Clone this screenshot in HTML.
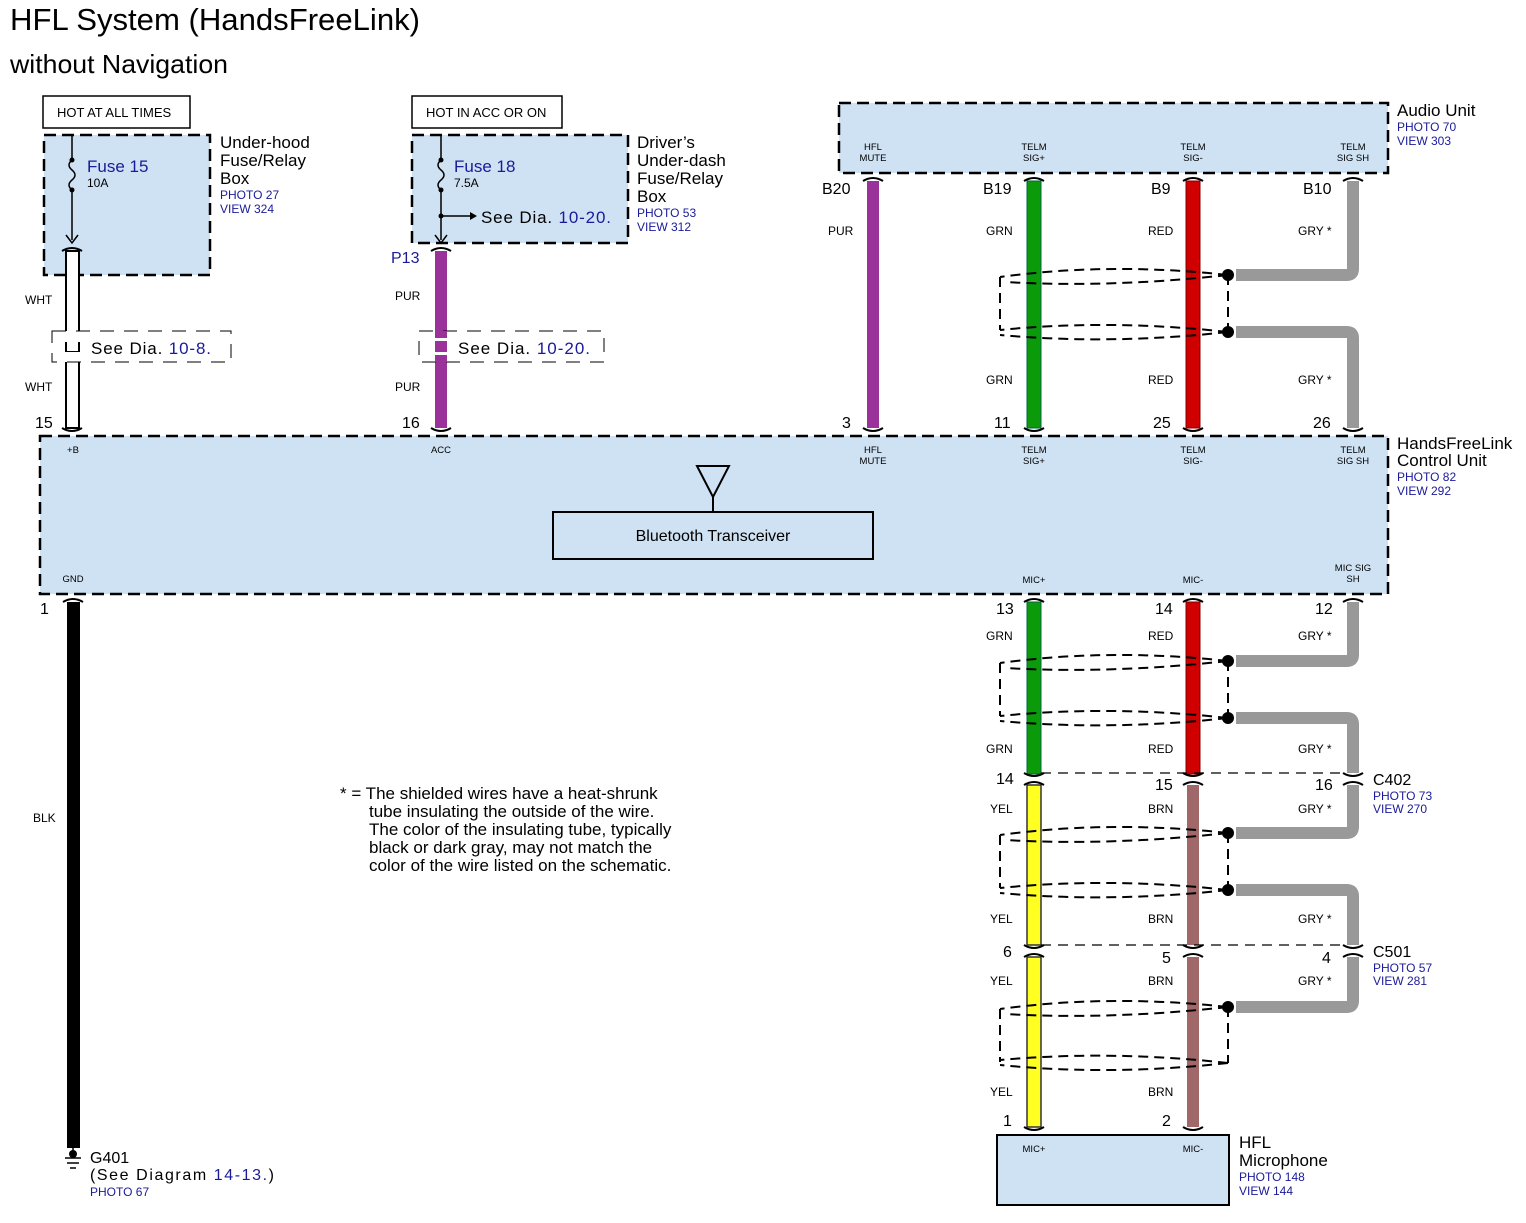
<!DOCTYPE html>
<html><head><meta charset="utf-8"><style>
html,body{margin:0;padding:0;background:#fff}
svg{display:block}
text{font-family:"Liberation Sans",sans-serif}
.s{font-size:12px}
.t{font-size:9.5px}
.b{fill:#1a1a9a}
.n{font-size:16px}
</style></head><body>
<svg width="1526" height="1223" viewBox="0 0 1526 1223" xmlns="http://www.w3.org/2000/svg">
<text x="10" y="30" font-size="31" textLength="410" lengthAdjust="spacingAndGlyphs">HFL System (HandsFreeLink)</text>
<text x="10" y="73" font-size="26" textLength="218" lengthAdjust="spacingAndGlyphs">without Navigation</text>

<!-- top-left boxes -->
<rect x="43" y="96" width="147" height="32" fill="#fff" stroke="#000" stroke-width="1.5"/>
<text x="57" y="117" font-size="13">HOT AT ALL TIMES</text>
<rect x="44" y="135" width="166" height="140" fill="#cfe2f3" stroke="#000" stroke-width="2.5" stroke-dasharray="12,6"/>
<text x="220" y="148" font-size="17">Under-hood</text>
<text x="220" y="166" font-size="17">Fuse/Relay</text>
<text x="220" y="184" font-size="17">Box</text>
<text x="220" y="199" class="s b">PHOTO 27</text>
<text x="220" y="213" class="s b">VIEW 324</text>
<path d="M72,135 V160 M72,190 V240" stroke="#000" stroke-width="1.5" fill="none"/>
<path d="M72,160 q-6,5 0,10 q6,5 0,10 q-6,5 0,10" stroke="#000" stroke-width="1.5" fill="none"/>
<circle cx="72" cy="160" r="2.5"/><circle cx="72" cy="190" r="2.5"/>
<path d="M66,235 L72,243 L78,235" stroke="#000" stroke-width="1.5" fill="none"/>
<text x="87" y="172" font-size="17" class="b">Fuse 15</text>
<text x="87" y="187" class="s">10A</text>

<rect x="412" y="96" width="150" height="32" fill="#fff" stroke="#000" stroke-width="1.5"/>
<text x="426" y="117" font-size="13">HOT IN ACC OR ON</text>
<rect x="412" y="135" width="216" height="108" fill="#cfe2f3" stroke="#000" stroke-width="2.5" stroke-dasharray="12,6"/>
<text x="637" y="148" font-size="17">Driver’s</text>
<text x="637" y="166" font-size="17">Under-dash</text>
<text x="637" y="184" font-size="17">Fuse/Relay</text>
<text x="637" y="202" font-size="17">Box</text>
<text x="637" y="217" class="s b">PHOTO 53</text>
<text x="637" y="231" class="s b">VIEW 312</text>
<path d="M441,135 V160 M441,190 V240 M441,216 H470" stroke="#000" stroke-width="1.5" fill="none"/>
<path d="M441,160 q-6,5 0,10 q6,5 0,10 q-6,5 0,10" stroke="#000" stroke-width="1.5" fill="none"/>
<circle cx="441" cy="160" r="2.5"/><circle cx="441" cy="190" r="2.5"/><circle cx="441" cy="216" r="2.5"/>
<path d="M470,212 L477,216 L470,220Z"/>
<path d="M435,235 L441,243 L447,235" stroke="#000" stroke-width="1.5" fill="none"/>
<text x="454" y="172" font-size="17" class="b">Fuse 18</text>
<text x="454" y="187" class="s">7.5A</text>
<text x="481" y="223" font-size="17" textLength="130" lengthAdjust="spacing">See  Dia. <tspan class="b">10-20.</tspan></text>

<!-- audio unit -->
<rect x="839" y="103" width="549" height="70" fill="#cfe2f3" stroke="#000" stroke-width="2.5" stroke-dasharray="12,6"/>
<text x="1397" y="116" font-size="17">Audio Unit</text>
<text x="1397" y="131" class="s b">PHOTO 70</text>
<text x="1397" y="145" class="s b">VIEW 303</text>
<g class="t" text-anchor="middle" font-size="9.5">
<text x="873" y="150">HFL</text><text x="873" y="161">MUTE</text>
<text x="1034" y="150">TELM</text><text x="1034" y="161">SIG+</text>
<text x="1193" y="150">TELM</text><text x="1193" y="161">SIG-</text>
<text x="1353" y="150">TELM</text><text x="1353" y="161">SIG SH</text>
</g>

<!-- control unit -->
<rect x="40" y="436" width="1348" height="158" fill="#cfe2f3" stroke="#000" stroke-width="2.5" stroke-dasharray="12,6"/>
<text x="1397" y="449" font-size="17">HandsFreeLink</text>
<text x="1397" y="466" font-size="17">Control Unit</text>
<text x="1397" y="481" class="s b">PHOTO 82</text>
<text x="1397" y="495" class="s b">VIEW 292</text>
<g text-anchor="middle" font-size="9.5">
<text x="73" y="453">+B</text>
<text x="441" y="453">ACC</text>
<text x="873" y="453">HFL</text><text x="873" y="464">MUTE</text>
<text x="1034" y="453">TELM</text><text x="1034" y="464">SIG+</text>
<text x="1193" y="453">TELM</text><text x="1193" y="464">SIG-</text>
<text x="1353" y="453">TELM</text><text x="1353" y="464">SIG SH</text>
<text x="73" y="582">GND</text>
<text x="1034" y="583">MIC+</text>
<text x="1193" y="583">MIC-</text>
<text x="1353" y="571">MIC SIG</text><text x="1353" y="582">SH</text>
</g>
<rect x="553" y="512" width="320" height="47" fill="#cfe2f3" stroke="#000" stroke-width="2"/>
<text x="713" y="541" text-anchor="middle" font-size="16">Bluetooth Transceiver</text>
<path d="M713,512 V497 M697,466 L713,497 L729,466 Z" stroke="#000" stroke-width="2" fill="none"/>

<!-- wires top-left -->
<rect x="66" y="251" width="13" height="177" fill="#fff" stroke="#000" stroke-width="2"/>
<rect x="435" y="251" width="12" height="177" fill="#993399"/>
<rect x="52" y="331" width="179" height="31" fill="#fff" stroke="#000" stroke-width="1" stroke-dasharray="14,10"/>
<rect x="62" y="339" width="25" height="16" fill="#fff"/>
<rect x="66" y="341" width="13" height="11" fill="#fff" stroke="#000" stroke-width="2"/>
<rect x="64" y="339" width="17" height="3" fill="#fff"/><rect x="64" y="352" width="17" height="3" fill="#fff"/>
<text x="91" y="354" font-size="17" textLength="120" lengthAdjust="spacing">See  Dia.  <tspan class="b">10-8.</tspan></text>
<rect x="419" y="331" width="185" height="31" fill="#fff" stroke="#000" stroke-width="1" stroke-dasharray="14,10"/>
<rect x="435" y="331" width="12" height="31" fill="#993399"/>
<rect x="433" y="338" width="16" height="3" fill="#fff"/><rect x="433" y="352" width="16" height="3" fill="#fff"/>
<text x="458" y="354" font-size="17" textLength="132" lengthAdjust="spacing">See Dia.  <tspan class="b">10-20.</tspan></text>
<text x="25" y="304" class="s">WHT</text><text x="25" y="391" class="s">WHT</text>
<text x="395" y="300" class="s">PUR</text><text x="395" y="391" class="s">PUR</text>
<text x="391" y="263" font-size="16" class="b">P13</text>
<text x="35" y="428" class="n">15</text><text x="402" y="428" class="n">16</text>

<!-- upper right wires -->
<rect x="867" y="181" width="12" height="247" fill="#993399"/>
<rect x="1027" y="181" width="14" height="247" fill="#0a9a0a" stroke="#064" stroke-width="1"/>
<rect x="1186" y="181" width="14" height="247" fill="#d00000" stroke="#800" stroke-width="1"/>
<path d="M1236,275 H1347 Q1353,275 1353,269 V181" stroke="#999" stroke-width="12" fill="none"/>
<path d="M1236,332 H1347 Q1353,332 1353,338 V428" stroke="#999" stroke-width="12" fill="none"/>
<g font-size="16"><text x="822" y="194">B20</text><text x="983" y="194">B19</text><text x="1151" y="194">B9</text><text x="1303" y="194">B10</text>
<text x="842" y="428">3</text><text x="994" y="428">11</text><text x="1153" y="428">25</text><text x="1313" y="428">26</text></g>
<g class="s"><text x="828" y="235">PUR</text><text x="986" y="235">GRN</text><text x="1148" y="235">RED</text><text x="1298" y="235">GRY *</text>
<text x="986" y="384">GRN</text><text x="1148" y="384">RED</text><text x="1298" y="384">GRY *</text></g>

<!-- lower wires -->
<rect x="67" y="602" width="13" height="546" fill="#000"/>
<rect x="1027" y="602" width="14" height="172" fill="#0a9a0a" stroke="#064" stroke-width="1"/>
<rect x="1186" y="602" width="14" height="172" fill="#d00000" stroke="#800" stroke-width="1"/>
<rect x="1027" y="785" width="14" height="160" fill="#ffff22" stroke="#333" stroke-width="1.5"/>
<rect x="1027" y="957" width="14" height="170" fill="#ffff22" stroke="#333" stroke-width="1.5"/>
<rect x="1187" y="785" width="12" height="160" fill="#a06868"/>
<rect x="1187" y="957" width="12" height="170" fill="#a06868"/>
<path d="M1353,602 V655 Q1353,661 1347,661 H1236" stroke="#999" stroke-width="12" fill="none"/>
<path d="M1236,718 H1347 Q1353,718 1353,724 V773" stroke="#999" stroke-width="12" fill="none"/>
<path d="M1353,785 V827 Q1353,833 1347,833 H1236" stroke="#999" stroke-width="12" fill="none"/>
<path d="M1236,890 H1347 Q1353,890 1353,896 V945" stroke="#999" stroke-width="12" fill="none"/>
<path d="M1353,957 V1001 Q1353,1007 1347,1007 H1236" stroke="#999" stroke-width="12" fill="none"/>
<path d="M1041,773 H1347 M1041,945 H1347" stroke="#000" stroke-width="1.2" stroke-dasharray="10,7" fill="none"/>
<g font-size="16">
<text x="40" y="614">1</text>
<text x="996" y="614">13</text><text x="1155" y="614">14</text><text x="1315" y="614">12</text>
<text x="996" y="784">14</text><text x="1155" y="790">15</text><text x="1315" y="790">16</text>
<text x="1003" y="957">6</text><text x="1162" y="963">5</text><text x="1322" y="963">4</text>
<text x="1003" y="1126">1</text><text x="1162" y="1126">2</text>
<text x="1373" y="785">C402</text><text x="1373" y="957">C501</text>
</g>
<text x="1373" y="800" class="s b">PHOTO 73</text><text x="1373" y="813" class="s b">VIEW 270</text>
<text x="1373" y="972" class="s b">PHOTO 57</text><text x="1373" y="985" class="s b">VIEW 281</text>
<g class="s">
<text x="33" y="822">BLK</text>
<text x="986" y="640">GRN</text><text x="1148" y="640">RED</text><text x="1298" y="640">GRY *</text>
<text x="986" y="753">GRN</text><text x="1148" y="753">RED</text><text x="1298" y="753">GRY *</text>
<text x="990" y="813">YEL</text><text x="1148" y="813">BRN</text><text x="1298" y="813">GRY *</text>
<text x="990" y="923">YEL</text><text x="1148" y="923">BRN</text><text x="1298" y="923">GRY *</text>
<text x="990" y="985">YEL</text><text x="1148" y="985">BRN</text><text x="1298" y="985">GRY *</text>
<text x="990" y="1096">YEL</text><text x="1148" y="1096">BRN</text>
</g>

<!-- connector caps -->
<g stroke="#000" stroke-width="2" fill="none">
<path d="M62,251 q10,-6 20,0 M62,428 q10,6 20,0 M431,251 q10,-6 20,0 M431,428 q10,6 20,0
M863,181 q10,-6 20,0 M863,428 q10,6 20,0 M1024,181 q10,-6 20,0 M1024,428 q10,6 20,0
M1183,181 q10,-6 20,0 M1183,428 q10,6 20,0 M1343,181 q10,-6 20,0 M1343,428 q10,6 20,0
M63,602 q10,-6 20,0 M1024,602 q10,-6 20,0 M1183,602 q10,-6 20,0 M1343,602 q10,-6 20,0
M1024,773 q10,6 20,0 M1024,785 q10,-6 20,0 M1183,773 q10,6 20,0 M1183,785 q10,-6 20,0 M1343,773 q10,6 20,0 M1343,785 q10,-6 20,0
M1024,945 q10,6 20,0 M1024,957 q10,-6 20,0 M1183,945 q10,6 20,0 M1183,957 q10,-6 20,0 M1343,945 q10,6 20,0 M1343,957 q10,-6 20,0
M1024,1127 q10,6 20,0 M1183,1127 q10,6 20,0"/>
</g>

<!-- shields -->
<g stroke="#000" stroke-width="2" fill="none" stroke-dasharray="10,6">
<path d="M1228,275 Q1110,262 1000,277 M1228,275 Q1110,288 1005,282 M1000,277 V330 M1228,275 V332 M1228,332 Q1110,319 1000,330 M1228,332 Q1110,345 1000,335"/>
<path d="M1228,661 Q1110,648 1000,663 M1228,661 Q1110,674 1005,668 M1000,663 V716 M1228,661 V718 M1228,718 Q1110,705 1000,716 M1228,718 Q1110,731 1000,721"/>
<path d="M1228,833 Q1110,820 1000,835 M1228,833 Q1110,846 1005,840 M1000,835 V888 M1228,833 V890 M1228,890 Q1110,877 1000,888 M1228,890 Q1110,903 1000,893"/>
<path d="M1228,1007 Q1110,994 1000,1009 M1228,1007 Q1110,1020 1005,1014 M1000,1009 V1062 M1228,1007 V1063 M1228,1063 Q1110,1050 1000,1060 M1228,1063 Q1110,1076 1000,1065"/>
</g>
<g><circle cx="1228" cy="275" r="6"/><circle cx="1228" cy="332" r="6"/><circle cx="1228" cy="661" r="6"/><circle cx="1228" cy="718" r="6"/><circle cx="1228" cy="833" r="6"/><circle cx="1228" cy="890" r="6"/><circle cx="1228" cy="1007" r="6"/></g>

<!-- microphone -->
<rect x="997" y="1135" width="232" height="70" fill="#cfe2f3" stroke="#000" stroke-width="2"/>
<text x="1034" y="1152" text-anchor="middle" font-size="9.5">MIC+</text>
<text x="1193" y="1152" text-anchor="middle" font-size="9.5">MIC-</text>
<text x="1239" y="1148" font-size="17">HFL</text>
<text x="1239" y="1166" font-size="17">Microphone</text>
<text x="1239" y="1181" class="s b">PHOTO 148</text>
<text x="1239" y="1195" class="s b">VIEW 144</text>

<!-- ground -->
<path d="M73,1148 V1158 M65,1158 H81 M67,1163 H79 M70,1168 H76" stroke="#000" stroke-width="1.5"/>
<circle cx="73" cy="1154" r="4"/>
<text x="90" y="1163" font-size="16">G401</text>
<text x="90" y="1180" font-size="16" textLength="184" lengthAdjust="spacing">(See  Diagram  <tspan class="b">14-13.</tspan>)</text>
<text x="90" y="1196" class="s b">PHOTO 67</text>

<g font-size="17">
<text x="340" y="799">* =  The shielded wires have a heat-shrunk</text>
<text x="369" y="817">tube insulating the outside of the wire.</text>
<text x="369" y="835">The color of the insulating tube, typically</text>
<text x="369" y="853">black or dark gray, may not match the</text>
<text x="369" y="871">color of the wire listed on the schematic.</text>
</g>
</svg>
</body></html>
